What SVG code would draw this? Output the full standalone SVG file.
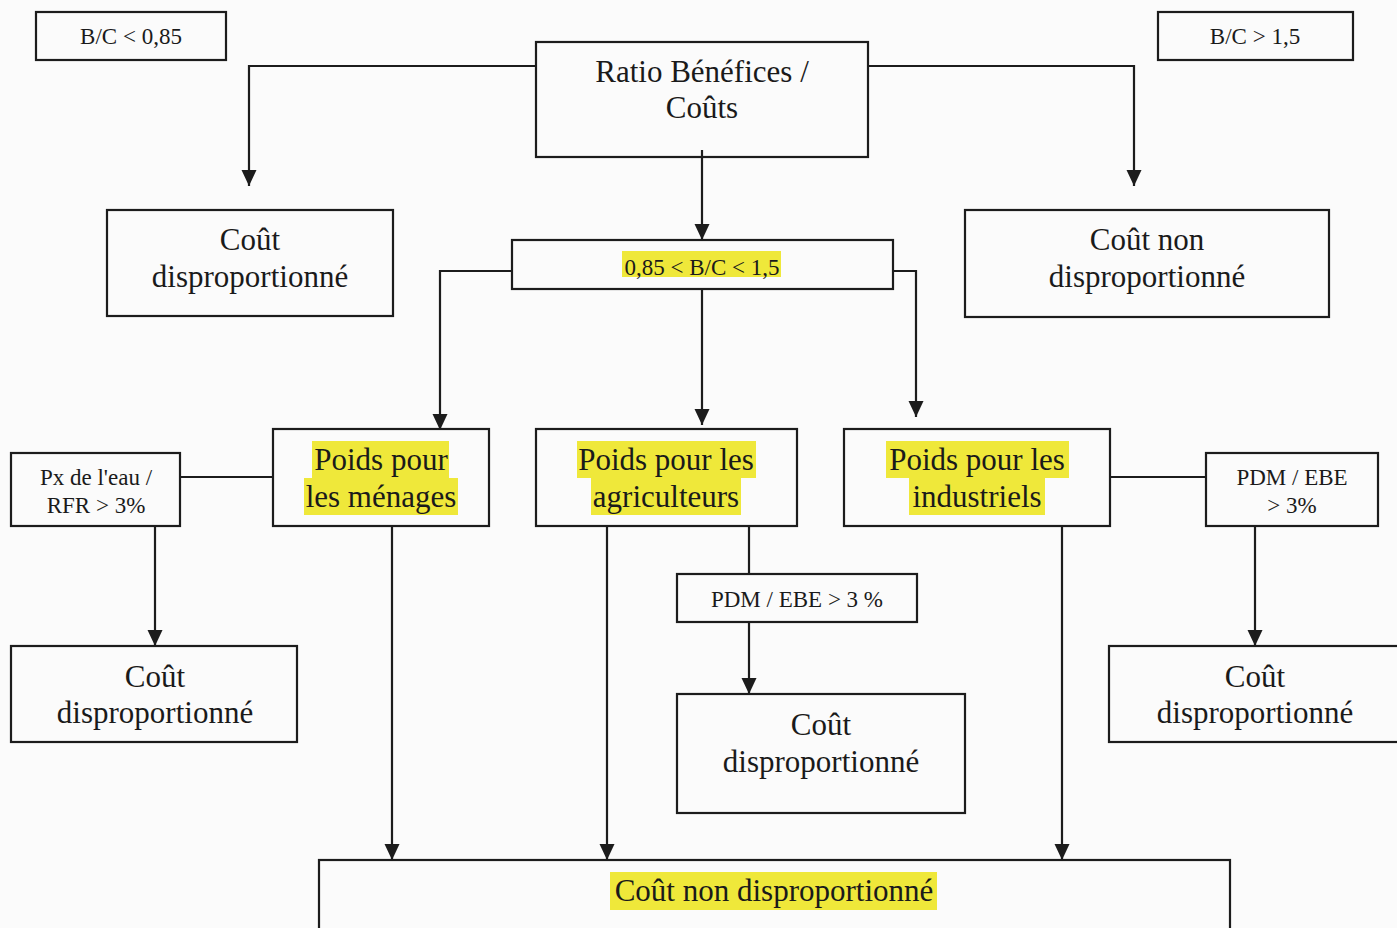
<svg xmlns="http://www.w3.org/2000/svg" width="1397" height="928" viewBox="0 0 1397 928">
<style>
.box{fill:none;stroke:#1c1c1c;stroke-width:2.2}
.ln{fill:none;stroke:#1c1c1c;stroke-width:2.2}
.big{font-family:"Liberation Serif","Times New Roman",serif;font-size:31px;fill:#1a1a1a;text-anchor:middle}
.sm{font-family:"Liberation Serif","Times New Roman",serif;font-size:23px;fill:#1a1a1a;text-anchor:middle}
.hl{fill:#efe83a}
</style>
<defs>
<marker id="arr" markerUnits="userSpaceOnUse" markerWidth="17" markerHeight="16" refX="16" refY="7.5" orient="auto">
<path d="M0,0 L16,7.5 L0,15 Z" fill="#1c1c1c"/>
</marker>
</defs>
<rect width="1397" height="928" fill="#fbfbfb"/>
<g id="connectors">
<path class="ln" d="M536,66 H249 V186" marker-end="url(#arr)"/>
<path class="ln" d="M868,66 H1134 V186" marker-end="url(#arr)"/>
<path class="ln" d="M702,150 V240" marker-end="url(#arr)"/>
<path class="ln" d="M512,271 H440 V430" marker-end="url(#arr)"/>
<path class="ln" d="M702,289 V425" marker-end="url(#arr)"/>
<path class="ln" d="M893,271 H916 V417" marker-end="url(#arr)"/>
<path class="ln" d="M180,477 H273"/>
<path class="ln" d="M155,526 V646" marker-end="url(#arr)"/>
<path class="ln" d="M392,526 V860" marker-end="url(#arr)"/>
<path class="ln" d="M607,526 V860" marker-end="url(#arr)"/>
<path class="ln" d="M1062,526 V860" marker-end="url(#arr)"/>
<path class="ln" d="M749,526 V574"/>
<path class="ln" d="M749,622 V694" marker-end="url(#arr)"/>
<path class="ln" d="M1110,477 H1206"/>
<path class="ln" d="M1255,526 V646" marker-end="url(#arr)"/>
</g>
<g id="bc-low">
<rect class="box" x="36" y="12" width="190" height="48"/>
<text class="sm" x="131" y="44">B/C &lt; 0,85</text>
</g>
<g id="bc-high">
<rect class="box" x="1158" y="12" width="195" height="48"/>
<text class="sm" x="1255" y="44">B/C &gt; 1,5</text>
</g>
<g id="ratio">
<rect class="box" x="536" y="42" width="332" height="115"/>
<text class="big" x="702" y="82">Ratio Bénéfices /</text>
<text class="big" x="702" y="118">Coûts</text>
</g>
<g id="cout-disp-top">
<rect class="box" x="107" y="210" width="286" height="106"/>
<text class="big" x="250" y="250">Coût</text>
<text class="big" x="250" y="287">disproportionné</text>
</g>
<g id="cout-non-top">
<rect class="box" x="965" y="210" width="364" height="107"/>
<text class="big" x="1147" y="250">Coût non</text>
<text class="big" x="1147" y="287">disproportionné</text>
</g>
<g id="mid">
<rect class="box" x="512" y="240" width="381" height="49"/>
<rect class="hl" x="622" y="251" width="159" height="26"/>
<text class="sm" x="702" y="275">0,85 &lt; B/C &lt; 1,5</text>
</g>
<g id="menages">
<rect class="box" x="273" y="429" width="216" height="97"/>
<rect class="hl" x="312" y="441" width="137" height="37"/>
<rect class="hl" x="304" y="478" width="154" height="37"/>
<text class="big" x="381" y="470">Poids pour</text>
<text class="big" x="381" y="507">les ménages</text>
</g>
<g id="agriculteurs">
<rect class="box" x="536" y="429" width="261" height="97"/>
<rect class="hl" x="577" y="441" width="179" height="37"/>
<rect class="hl" x="591" y="478" width="150" height="37"/>
<text class="big" x="666" y="470">Poids pour les</text>
<text class="big" x="666" y="507">agriculteurs</text>
</g>
<g id="industriels">
<rect class="box" x="844" y="429" width="266" height="97"/>
<rect class="hl" x="886" y="441" width="183" height="37"/>
<rect class="hl" x="909" y="478" width="136" height="37"/>
<text class="big" x="977" y="470">Poids pour les</text>
<text class="big" x="977" y="507">industriels</text>
</g>
<g id="px-eau">
<rect class="box" x="11" y="453" width="169" height="73"/>
<text class="sm" x="96" y="485">Px de l'eau /</text>
<text class="sm" x="96" y="513">RFR &gt; 3%</text>
</g>
<g id="pdm-ebe-right">
<rect class="box" x="1206" y="453" width="172" height="73"/>
<text class="sm" x="1292" y="485">PDM / EBE</text>
<text class="sm" x="1292" y="513">&gt; 3%</text>
</g>
<g id="pdm-ebe-mid">
<rect class="box" x="677" y="574" width="240" height="48"/>
<text class="sm" x="797" y="607">PDM / EBE &gt; 3 %</text>
</g>
<g id="cout-disp-left">
<rect class="box" x="11" y="646" width="286" height="96"/>
<text class="big" x="155" y="687">Coût</text>
<text class="big" x="155" y="723">disproportionné</text>
</g>
<g id="cout-disp-mid">
<rect class="box" x="677" y="694" width="288" height="119"/>
<text class="big" x="821" y="735">Coût</text>
<text class="big" x="821" y="772">disproportionné</text>
</g>
<g id="cout-disp-right">
<rect class="box" x="1109" y="646" width="300" height="96"/>
<text class="big" x="1255" y="687">Coût</text>
<text class="big" x="1255" y="723">disproportionné</text>
</g>
<g id="cout-non-bottom">
<rect class="box" x="319" y="860" width="911" height="90"/>
<rect class="hl" x="610" y="872" width="327" height="38"/>
<text class="big" x="774" y="901">Coût non disproportionné</text>
</g>
</svg>
